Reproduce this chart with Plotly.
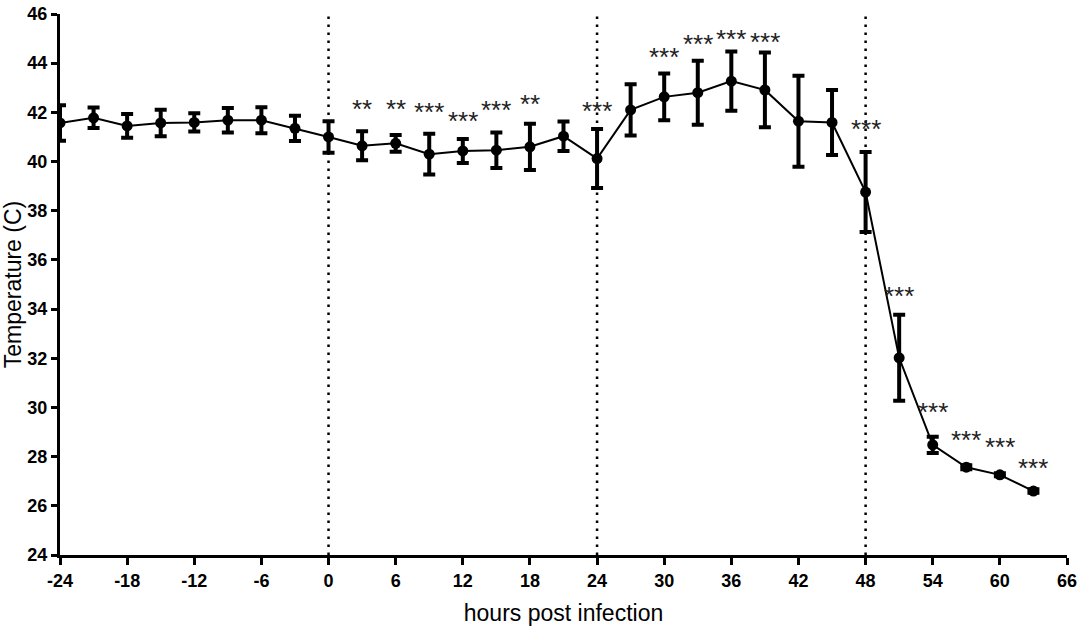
import plotly.graph_objects as go

# hours post infection, mean temperature and error
hours = [-24, -21, -18, -15, -12, -9, -6, -3, 0, 3, 6, 9, 12, 15, 18, 21, 24,
         27, 30, 33, 36, 39, 42, 45, 48, 51, 54, 57, 60, 63]
temp = [41.57, 41.78, 41.45, 41.57, 41.59, 41.68, 41.68, 41.35, 41.0, 40.64,
        40.74, 40.30, 40.43, 40.46, 40.60, 41.03, 40.12, 42.10, 42.63, 42.80,
        43.27, 42.91, 41.64, 41.59, 38.76, 32.02, 28.48, 27.57, 27.26, 26.6]
err = [0.72, 0.42, 0.48, 0.54, 0.37, 0.5, 0.53, 0.51, 0.64, 0.59, 0.34, 0.83,
       0.49, 0.72, 0.94, 0.6, 1.2, 1.04, 0.95, 1.3, 1.2, 1.52, 1.85, 1.32,
       1.63, 1.75, 0.33, 0.08, 0.06, 0.07]

# significance labels
sig_hours = [3, 6, 9, 12, 15, 18, 24, 30, 33, 36, 39, 48, 51, 54, 57, 60, 63]
sig_text = ["**", "**", "***", "***", "***", "**", "***", "***", "***", "***",
            "***", "***", "***", "***", "***", "***", "***"]
sig_y = [42.43, 42.43, 42.30, 41.93, 42.39, 42.63, 42.32, 44.53, 45.05, 45.28,
         45.16, 41.59, 34.83, 30.08, 28.95, 28.68, 27.81]

x_ticks = [-24, -18, -12, -6, 0, 6, 12, 18, 24, 30, 36, 42, 48, 54, 60, 66]
x_tick_labels = ["-24", "-18", "-12", "-6", "0", "6", "12", "18", "24", "30",
                 "36", "42", "48", "54", "60", "66"]

marker_hours = [0, 24, 48]

fig = go.Figure()

for h in marker_hours:
    fig.add_shape(type="line", x0=h, x1=h, y0=24, y1=46, xref="x", yref="y",
                  line=dict(color="black", width=2.5, dash="2.5px,5.5px"),
                  layer="below")

fig.add_trace(go.Scatter(
    x=hours, y=temp,
    mode="lines+markers",
    line=dict(color="black", width=2),
    marker=dict(color="black", size=11),
    error_y=dict(type="data", array=err, visible=True,
                 color="black", thickness=4, width=6),
    showlegend=False,
))

for h, t, y in zip(sig_hours, sig_text, sig_y):
    fig.add_annotation(x=h, y=y, text=t, showarrow=False,
                       font=dict(family="Liberation Sans, Arial", size=26, color="#222"),
                       yanchor="middle", yshift=-7)

fig.update_xaxes(
    range=[-24, 66], tickmode="array", tickvals=x_ticks, ticktext=x_tick_labels,
    showline=True, linecolor="black", linewidth=3,
    ticks="outside", ticklen=7, tickwidth=2.5, tickcolor="black",
    showgrid=False, zeroline=False, automargin=False,
    tickfont=dict(family="Liberation Sans, Arial", size=18, color="black", weight="bold"),
    title=dict(text="hours post infection", standoff=16,
               font=dict(family="Liberation Sans, Arial", size=23, color="black")),
)
fig.update_yaxes(
    range=[24, 46], tickmode="linear", tick0=24, dtick=2,
    showline=True, linecolor="black", linewidth=3,
    ticks="outside", ticklen=6, tickwidth=2.5, tickcolor="black",
    showgrid=False, zeroline=False, automargin=False,
    tickfont=dict(family="Liberation Sans, Arial", size=18, color="black", weight="bold"),
    title=dict(text="Temperature (C)", standoff=5,
               font=dict(family="Liberation Sans, Arial", size=23, color="black")),
)

fig.update_layout(
    width=1084, height=637,
    margin=dict(l=60, r=17, t=14, b=82),
    plot_bgcolor="white", paper_bgcolor="white",
)

# page body has a default 8px margin, drop it so the figure sits at 0,0
fig.write_html("out.html", config={"displayModeBar": False},
               post_script="document.body.style.margin='0px';")
